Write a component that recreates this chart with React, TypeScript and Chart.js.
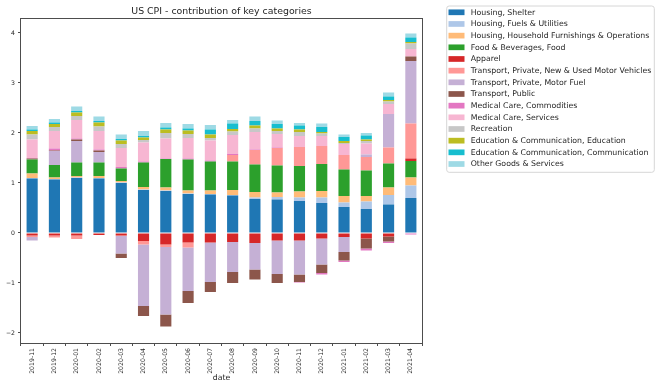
import React, { useEffect, useRef } from 'react';
import { Chart, registerables } from 'chart.js';

Chart.register(...registerables);

const TITLE = 'US CPI - contribution of key categories';
const X_TITLE = 'date';
const DATES = ['2019-11', '2019-12', '2020-01', '2020-02', '2020-03', '2020-04', '2020-05', '2020-06', '2020-07', '2020-08', '2020-09', '2020-10', '2020-11', '2020-12', '2021-01', '2021-02', '2021-03', '2021-04'];
const Y_TICKS = [-2, -1, 0, 1, 2, 3, 4];

const SHELTER = [1.09, 1.07, 1.10, 1.09, 1.00, 0.86, 0.84, 0.78, 0.77, 0.75, 0.68, 0.67, 0.64, 0.60, 0.52, 0.48, 0.57, 0.70];
const FUELS_UTILITIES = [0.01, 0.01, 0.01, 0.01, 0.01, 0.01, 0.01, 0.01, 0.01, 0.01, 0.03, 0.05, 0.07, 0.11, 0.09, 0.15, 0.19, 0.25];
const FURNISHINGS = [0.09, 0.03, 0.03, 0.04, 0.03, 0.05, 0.06, 0.06, 0.07, 0.10, 0.11, 0.09, 0.12, 0.13, 0.13, 0.11, 0.15, 0.16];
const FOOD = [0.28, 0.25, 0.27, 0.27, 0.25, 0.49, 0.57, 0.62, 0.58, 0.57, 0.55, 0.54, 0.51, 0.54, 0.53, 0.51, 0.48, 0.33];
const APPAREL = [-0.05, -0.05, -0.05, -0.04, -0.05, -0.16, -0.23, -0.19, -0.19, -0.18, -0.20, -0.15, -0.15, -0.11, -0.08, -0.11, -0.07, 0.05];
const VEHICLES = [-0.03, -0.04, -0.07, 0.0, -0.01, -0.07, -0.05, -0.10, 0.0, 0.13, 0.29, 0.35, 0.38, 0.36, 0.29, 0.27, 0.32, 0.70];
const MOTOR_FUEL = [-0.07, 0.28, 0.43, 0.21, -0.35, -1.23, -1.35, -0.87, -0.79, -0.60, -0.53, -0.67, -0.68, -0.52, -0.30, 0.05, 0.67, 1.25];
const TRANSPORT_PUBLIC = [0.02, 0.01, 0.03, 0.03, -0.09, -0.20, -0.24, -0.24, -0.20, -0.22, -0.20, -0.18, -0.15, -0.17, -0.17, -0.20, -0.10, 0.09];
const MEDICAL_COMMODITIES = [0.01, 0.04, 0.02, 0.02, 0.03, 0.02, 0.01, 0.02, 0.02, 0.02, 0.01, 0.01, -0.01, -0.03, -0.03, -0.04, -0.03, -0.03];
const MEDICAL_SERVICES = [0.37, 0.35, 0.37, 0.37, 0.38, 0.38, 0.40, 0.41, 0.40, 0.38, 0.35, 0.27, 0.22, 0.20, 0.22, 0.22, 0.20, 0.15];
const RECREATION = [0.10, 0.08, 0.08, 0.09, 0.08, 0.05, 0.11, 0.08, 0.05, 0.07, 0.07, 0.06, 0.08, 0.05, 0.02, 0.05, 0.05, 0.11];
const EDUCATION = [0.07, 0.06, 0.07, 0.08, 0.07, 0.05, 0.07, 0.07, 0.07, 0.05, 0.06, 0.05, 0.05, 0.03, 0.04, 0.03, 0.03, 0.03];
const COMMUNICATION = [0.03, 0.03, 0.03, 0.03, 0.03, 0.03, 0.04, 0.04, 0.10, 0.11, 0.09, 0.09, 0.08, 0.10, 0.08, 0.08, 0.07, 0.09];
const OTHER = [0.07, 0.07, 0.09, 0.09, 0.09, 0.10, 0.09, 0.09, 0.09, 0.07, 0.09, 0.07, 0.05, 0.07, 0.05, 0.05, 0.08, 0.08];

const SERIES_NAMES = [
  'Housing, Shelter',
  'Housing, Fuels & Utilities',
  'Housing, Household Furnishings & Operations',
  'Food & Beverages, Food',
  'Apparel',
  'Transport, Private, New & Used Motor Vehicles',
  'Transport, Private, Motor Fuel',
  'Transport, Public',
  'Medical Care, Commodities',
  'Medical Care, Services',
  'Recreation',
  'Education & Communication, Education',
  'Education & Communication, Communication',
  'Other Goods & Services',
];
const SERIES_VALUES = [SHELTER, FUELS_UTILITIES, FURNISHINGS, FOOD, APPAREL, VEHICLES, MOTOR_FUEL, TRANSPORT_PUBLIC, MEDICAL_COMMODITIES, MEDICAL_SERVICES, RECREATION, EDUCATION, COMMUNICATION, OTHER];
const SERIES_COLORS = ['#1f77b4', '#aec7e8', '#ffbb78', '#2ca02c', '#d62728', '#ff9896', '#c5b0d5', '#8c564b', '#e377c2', '#f7b6d2', '#c7c7c7', '#bcbd22', '#17becf', '#9edae5'];

const FONT = '"DejaVu Sans", "Liberation Sans", sans-serif';
const TEXT_COLOR = '#262626';
const SPINE_COLOR = '#4d4d4d';

const framePlugin = {
  id: 'mplFrame',
  afterDatasetsDraw(chart: any) {
    const { ctx, chartArea } = chart;
    ctx.save();
    ctx.strokeStyle = SPINE_COLOR;
    ctx.lineWidth = 1;
    ctx.strokeRect(Math.round(chartArea.left) - 0.5, Math.round(chartArea.top) + 0.5, Math.round(chartArea.right - chartArea.left) + 1, Math.round(chartArea.bottom - chartArea.top));
    ctx.restore();
  },
};

const legendPlugin = {
  id: 'mplLegend',
  afterDraw(chart: any) {
    const { ctx, chartArea } = chart;
    const datasets = chart.data.datasets;
    const x0 = chartArea.right + 24.7;
    const y0 = 6;
    const w = 207.6;
    const rowH = 11.67;
    const h = 166.3;
    const r = 2.5;
    ctx.save();
    ctx.beginPath();
    ctx.moveTo(x0 + r, y0);
    ctx.lineTo(x0 + w - r, y0);
    ctx.quadraticCurveTo(x0 + w, y0, x0 + w, y0 + r);
    ctx.lineTo(x0 + w, y0 + h - r);
    ctx.quadraticCurveTo(x0 + w, y0 + h, x0 + w - r, y0 + h);
    ctx.lineTo(x0 + r, y0 + h);
    ctx.quadraticCurveTo(x0, y0 + h, x0, y0 + h - r);
    ctx.lineTo(x0, y0 + r);
    ctx.quadraticCurveTo(x0, y0, x0 + r, y0);
    ctx.closePath();
    ctx.fillStyle = 'rgba(255,255,255,0.8)';
    ctx.fill();
    ctx.strokeStyle = '#d6d6d6';
    ctx.lineWidth = 1;
    ctx.stroke();
    ctx.font = `7.8px ${FONT}`;
    ctx.textBaseline = 'middle';
    ctx.textAlign = 'left';
    datasets.forEach((ds: any, i: number) => {
      const cy = y0 + 6.3 + i * rowH;
      ctx.fillStyle = ds.backgroundColor;
      ctx.fillRect(x0 + 1.8, cy - 2.85, 16, 5.7);
      ctx.fillStyle = TEXT_COLOR;
      ctx.fillText(ds.label, x0 + 24, cy + 0.3);
    });
    ctx.restore();
  },
};

export default function App() {
  const canvasRef = useRef<HTMLCanvasElement | null>(null);

  useEffect(() => {
    if (!canvasRef.current) return;
    const datasets = SERIES_NAMES.map((name, i) => ({
      label: name,
      data: SERIES_VALUES[i],
      backgroundColor: SERIES_COLORS[i],
      borderWidth: 0,
      barPercentage: 0.5,
      categoryPercentage: 1.0,
    }));
    const chart = new Chart(canvasRef.current, {
      type: 'bar',
      data: { labels: DATES, datasets },
      options: {
        animation: false,
        responsive: false,
        devicePixelRatio: 1,
        layout: { padding: { left: 0, right: 245, top: 0, bottom: 0 } },
        plugins: {
          legend: { display: false },
          tooltip: { enabled: false },
          title: {
            display: true,
            text: TITLE,
            fullSize: false,
            color: TEXT_COLOR,
            font: { family: FONT, size: 9.4, weight: 'normal' },
            padding: { top: 5.5, bottom: 1.2 },
          },
        },
        scales: {
          x: {
            stacked: true,
            offset: true,
            afterFit: (scale: any) => { scale.height = 46; },
            grid: { display: true, drawOnChartArea: false, drawTicks: true, tickLength: 3, color: SPINE_COLOR },
            border: { display: false },
            ticks: {
              color: TEXT_COLOR,
              font: { family: FONT, size: 6.2 },
              minRotation: 90,
              maxRotation: 90,
              autoSkip: false,
              padding: 2,
            },
            title: {
              display: true,
              text: X_TITLE,
              color: TEXT_COLOR,
              font: { family: FONT, size: 7.8 },
              padding: { top: 0, bottom: 6.3 },
            },
          },
          y: {
            stacked: true,
            min: -2.2,
            max: 4.3,
            afterFit: (scale: any) => { scale.width = 21; },
            afterBuildTicks: (scale: any) => { scale.ticks = Y_TICKS.map((v) => ({ value: v })); },
            grid: { display: true, drawOnChartArea: false, drawTicks: true, tickLength: 3, color: SPINE_COLOR },
            border: { display: false },
            ticks: {
              color: TEXT_COLOR,
              font: { family: FONT, size: 6.2 },
              padding: 3,
              callback: (v: any) => (Number(v) < 0 ? '\u2212' + Math.abs(Number(v)) : String(v)),
            },
          },
        },
      },
      plugins: [framePlugin, legendPlugin],
    });
    return () => chart.destroy();
  }, []);

  return (
    <div style={{ position: 'fixed', left: 0, top: 0, width: 667, height: 389, background: '#fff' }}>
      <canvas ref={canvasRef} width={667} height={389} style={{ display: 'block', width: 667, height: 389 }} />
    </div>
  );
}
